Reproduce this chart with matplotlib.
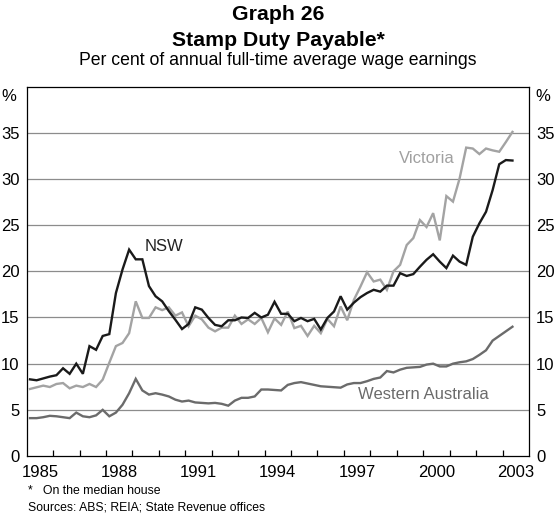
import numpy as np
import pandas as pd
import matplotlib
matplotlib.use("Agg")
import matplotlib.pyplot as plt

plt.rcParams['font.family'] = ['Liberation Sans', 'DejaVu Sans']

# Quarterly observations, 1985Q1 - 2003Q2
quarters = pd.period_range('1985Q1', '2003Q2', freq='Q')

nsw = [8.3, 8.2, 8.4, 8.6, 8.75, 9.5, 8.9, 10.0, 8.9, 11.9,
       11.5, 13.0, 13.2, 17.65, 20.2, 22.35, 21.3, 21.3, 18.4, 17.3,
       16.75, 15.7, 14.75, 13.75, 14.3, 16.1, 15.85, 14.95, 14.2, 14.05,
       14.7, 14.7, 15.0, 14.95, 15.5, 15.0, 15.3, 16.7, 15.4, 15.4,
       14.6, 14.95, 14.6, 14.85, 13.7, 14.95, 15.65, 17.3, 15.85, 16.6,
       17.2, 17.65, 18.0, 17.8, 18.45, 18.45, 19.8, 19.5, 19.7, 20.5,
       21.25, 21.85, 21.05, 20.35, 21.7, 21.05, 20.7, 23.75, 25.2, 26.45,
       28.8, 31.6, 32.05, 32.0]

victoria = [7.26, 7.44, 7.62, 7.47, 7.8, 7.9, 7.33, 7.62, 7.47, 7.8,
            7.47, 8.27, 10.1, 11.9, 12.24, 13.3, 16.75, 14.95, 14.95, 16.1,
            15.8, 16.1, 15.2, 15.55, 14.05, 15.2, 14.8, 13.9, 13.5, 13.9,
            13.9, 15.2, 14.3, 14.8, 14.3, 14.95, 13.4, 14.9, 14.2, 15.65,
            13.85, 14.1, 13.0, 14.1, 13.3, 14.85, 14.05, 16.2, 14.7, 16.9,
            18.35, 19.9, 18.9, 19.1, 18.0, 20.0, 20.7, 22.85, 23.6, 25.55,
            24.8, 26.3, 23.35, 28.15, 27.55, 30.05, 33.4, 33.3, 32.7, 33.3,
            33.1, 32.95, 34.0, 35.1]

western_australia = [4.1, 4.1, 4.2, 4.35, 4.3, 4.2, 4.1, 4.7, 4.3, 4.2,
                     4.4, 5.0, 4.3, 4.7, 5.55, 6.8, 8.35, 7.1, 6.65, 6.8,
                     6.65, 6.45, 6.1, 5.9, 6.0, 5.8, 5.75, 5.7, 5.75, 5.65,
                     5.45, 6.0, 6.3, 6.3, 6.45, 7.2, 7.2, 7.15, 7.1, 7.7,
                     7.9, 8.0, 7.85, 7.7, 7.55, 7.5, 7.45, 7.4, 7.75, 7.9,
                     7.9, 8.1, 8.35, 8.5, 9.2, 9.05, 9.35, 9.55, 9.6, 9.65,
                     9.9, 10.0, 9.7, 9.7, 10.0, 10.15, 10.25, 10.5, 10.95, 11.45,
                     12.5, 13.0, 13.5, 14.0]

year_labels = [1985, 1988, 1991, 1994, 1997, 2000, 2003]
y_ticks = [0, 5, 10, 15, 20, 25, 30, 35]

x = np.array([q.year + (q.quarter - 0.5) / 4 for q in quarters])

fig = plt.figure(figsize=(5.56, 5.18), dpi=100)
ax = fig.add_axes([0.048, 0.1197, 0.9034, 0.713])

col_nsw = '#1a1a1a'
col_vic = '#a3a3a3'
col_wa = '#6b6b6b'

for yv in y_ticks[1:]:
    ax.axhline(yv, color='#8c8c8c', lw=0.9, zorder=1)

ax.plot(x, western_australia, color=col_wa, lw=1.7, zorder=3, solid_joinstyle='miter')
ax.plot(x, victoria, color=col_vic, lw=1.7, zorder=3, solid_joinstyle='miter')
ax.plot(x, nsw, color=col_nsw, lw=1.7, zorder=4, solid_joinstyle='miter')

ax.set_xlim(1985, 2004)
ax.set_ylim(0, 40)

# year ticks at year boundaries, labels centred within the year
ax.set_xticks(np.arange(1986, 2004), minor=False)
ax.set_xticklabels([])
ax.tick_params(axis='x', which='major', direction='in', length=4.5, width=0.9,
               color='black', bottom=True, top=False)
ax.set_xticks([y + 0.5 for y in year_labels], minor=True)
ax.set_xticklabels([str(y) for y in year_labels], minor=True)
ax.tick_params(axis='x', which='minor', length=0, pad=6.5, labelsize=12)

ax.set_yticks(y_ticks)
ax.set_yticklabels([str(v) for v in y_ticks])
ax.tick_params(axis='y', which='major', length=0, pad=5, labelsize=12,
               left=True, right=True, labelleft=True, labelright=True)

for s in ax.spines.values():
    s.set_color('black')
    s.set_linewidth(0.9)

ax.text(-0.02, 38.9, '%', transform=ax.get_yaxis_transform(), ha='right',
        va='center', fontsize=12)
ax.text(1.012, 38.9, '%', transform=ax.get_yaxis_transform(), ha='left',
        va='center', fontsize=12)

ax.text(1989.45, 22.7, 'NSW', color='#222222', fontsize=12, ha='left', va='center')
ax.text(2000.12, 32.25, 'Victoria', color='#a0a0a0', fontsize=12, ha='center', va='center')
ax.text(2000.0, 6.65, 'Western Australia', color='#6b6b6b', fontsize=12,
        ha='center', va='center')

fig.text(0.5, 1 - 14 / 518, 'Graph 26', ha='center', va='center',
         fontsize=15.3, fontweight='bold')
fig.text(0.5, 1 - 41 / 518, 'Stamp Duty Payable*', ha='center', va='center',
         fontsize=15.3, fontweight='bold')
fig.text(0.5, 1 - 60.5 / 518, 'Per cent of annual full-time average wage earnings',
         ha='center', va='center', fontsize=12.7)

fig.text(28 / 556, 1 - 491 / 518, '*   On the median house', ha='left',
         va='center', fontsize=8.8)
fig.text(28 / 556, 1 - 507 / 518, 'Sources: ABS; REIA; State Revenue offices',
         ha='left', va='center', fontsize=8.8)

fig.savefig('out.png', dpi=100)
